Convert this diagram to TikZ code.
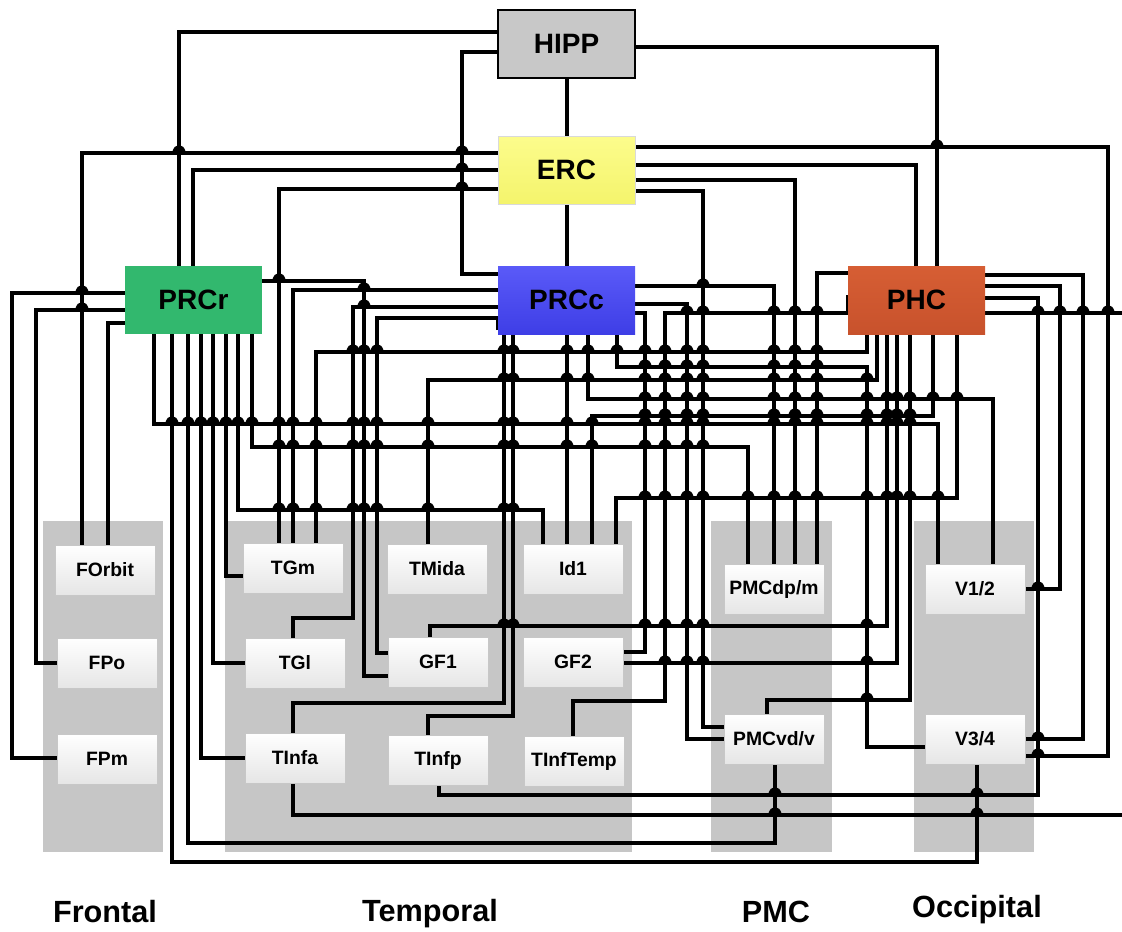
\documentclass[tikz,border=0pt]{standalone}
\usepackage{fontspec}
\setmainfont{Liberation Sans}
\pgfdeclarelayer{regions}
\pgfdeclarelayer{wires}
\pgfsetlayers{regions,wires,main}
\definecolor{regiongray}{HTML}{C6C6C6}
\definecolor{hippgray}{HTML}{C8C8C8}
\definecolor{ercY1}{HTML}{FCFC8C}
\definecolor{ercY2}{HTML}{F4F46C}
\definecolor{prccB1}{HTML}{5A5AF8}
\definecolor{prccB2}{HTML}{3E3EE6}
\definecolor{prcrG}{HTML}{32B86E}
\definecolor{phcR1}{HTML}{D65E34}
\definecolor{phcR2}{HTML}{C8522C}
\tikzset{
  big/.style={minimum width=102.75pt, minimum height=51pt, inner sep=0pt, outer sep=0pt,
              font=\fontsize{21}{21}\selectfont\bfseries},
  small/.style={minimum width=75pt, minimum height=37.5pt, inner sep=0pt, outer sep=0pt,
              draw=black!22, line width=0.6pt, top color=white, bottom color=black!10,
              font=\fontsize{14.5}{14.5}\selectfont\bfseries},
  w/.style={line width=3pt},
  region/.style={fill=regiongray},
  grp/.style={font=\fontsize{23}{23}\selectfont\bfseries}
}
\def\Hlist{32/179/498, 52/462/498, 274/462/498, 47/635/937, 153/82/498, 170/193/498,
 189/279/498, 147/635/1108, 756/1025/1108, 165/635/916, 180/635/795, 191/635/703, 727/703/724,
 281/262/364, 676/364/388, 293/12/125, 758/12/57, 310/36/125, 663/36/57, 323/108/125,
 424/154/938, 862/172/977, 843/188/775, 758/201/245, 663/213/245, 576/226/243, 510/238/543,
 447/252/748, 290/293/498, 307/353/498, 618/293/353, 318/377/498, 653/377/388, 703/293/504,
 716/428/513, 399/588/993, 367/617/867, 747/867/925, 286/635/774, 304/635/687, 739/687/724,
 313/635/645, 652/623/645, 273/817/848, 313/665/848, 701/573/665, 275/985/1083, 739/1025/1083,
 286/985/1060, 589/1025/1060, 298/985/1038, 795/439/1038, 313/985/1122, 815/293/1122,
 352/316/867, 380/428/877, 626/430/887, 663/623/897, 700/767/910, 416/592/933, 498/616/957}
\def\Vlist{179/32/266, 462/52/274, 566/78/136, 937/47/266, 566/204/266, 82/153/545, 193/170/266,
 279/189/543, 1108/147/756, 916/165/266, 795/180/564, 703/191/727, 364/281/676, 12/293/758,
 36/310/663, 108/323/545, 154/334/424, 938/424/564, 172/334/862, 977/764/862, 188/334/843,
 775/764/843, 201/334/758, 213/334/663, 226/334/576, 238/334/510, 543/510/544, 252/334/447,
 748/447/564, 293/290/543, 353/307/618, 293/618/638, 377/318/653, 504/334/703, 293/703/733,
 513/334/716, 428/716/735, 567/334/544, 588/334/399, 993/399/564, 617/334/367, 867/367/747,
 774/286/564, 687/304/739, 645/313/652, 817/273/564, 665/313/701, 573/701/736, 1083/275/739,
 1060/286/589, 1038/298/795, 439/785/795, 293/783/815, 867/334/352, 316/352/543, 877/334/380,
 428/380/544, 887/334/626, 430/626/637, 897/334/663, 910/334/700, 767/700/714, 933/334/416,
 592/416/544, 957/334/498, 616/498/544}
\begin{document}
\begin{tikzpicture}[x=0.75pt,y=-0.75pt]
\useasboundingbox (0,0) rectangle (1122,932);
% background and regions
\begin{pgfonlayer}{regions}
\fill[white] (0,0) rectangle (1122,932);
\fill[region] (43,521) rectangle (163,852);
\fill[region] (225,521) rectangle (632,852);
\fill[region] (711,521) rectangle (832,852);
\fill[region] (914,521) rectangle (1034,852);
\end{pgfonlayer}
% main nodes
\node[big, fill=hippgray, draw=black, line width=1.8pt] (HIPP) at (566.5,44) {HIPP};
\node[big, top color=ercY1, bottom color=ercY2, draw=black!15, line width=0.5pt] (ERC) at (566.5,170) {ERC};
\node[big, top color=prccB1, bottom color=prccB2] (PRCc) at (566.5,300) {PRCc};
\node[big, fill=prcrG] (PRCr) at (193.5,300) {PRCr};
\node[big, top color=phcR1, bottom color=phcR2] (PHC) at (916.5,300) {PHC};
% small nodes
\node[small] (FOrbit) at (105,570) {FOrbit};
\node[small] (FPo) at (107,663) {FPo};
\node[small] (FPm) at (107,759) {FPm};
\node[small] (TGm) at (293,568) {TGm};
\node[small] (TGl) at (295,663) {TGl};
\node[small] (TInfa) at (295,758) {TInfa};
\node[small] (TMida) at (437,569) {TMida};
\node[small] (GF1) at (438,662) {GF1};
\node[small] (TInfp) at (438,760) {TInfp};
\node[small] (Id1) at (573,569) {Id1};
\node[small] (GF2) at (573,662) {GF2};
\node[small] (TInfTemp) at (574,761) {TInfTemp};
\node[small] (PMCdpm) at (774,589) {PMCdp/m};
\node[small] (PMCvdv) at (774,739) {PMCvd/v};
\node[small] (V12) at (975,589) {V1/2};
\node[small] (V34) at (975,739) {V3/4};
\coordinate (offA) at (1122,313);
\coordinate (offB) at (1122,815);
% group labels
\node[grp] (lFrontal) at (105,912) {Frontal};
\node[grp] (lTemporal) at (430,914) {Temporal};
\node[grp] (lPMC) at (776,912) {PMC};
\node[grp] (lOcc) at (977,910) {Occipital};
% wires
\begin{pgfonlayer}{wires}
\draw[w] (HIPP.west|-0,32) -| (PRCr.north-|179,0);
\draw[w] (HIPP.west|-0,52) -| (462,274) -- (PRCc.west|-0,274);
\draw[w] (HIPP.south) -- (ERC.north);
\draw[w] (HIPP.east|-0,47) -| (PHC.north-|937,0);
\draw[w] (ERC.south) -- (PRCc.north);
\draw[w] (ERC.west|-0,153) -| (FOrbit.north-|82,0);
\draw[w] (ERC.west|-0,170) -| (PRCr.north-|193,0);
\draw[w] (ERC.west|-0,189) -| (TGm.north-|279,0);
\draw[w] (ERC.east|-0,147) -| (1108,756) -- (V34.east|-0,756);
\draw[w] (ERC.east|-0,165) -| (PHC.north-|916,0);
\draw[w] (ERC.east|-0,180) -| (PMCdpm.north-|795,0);
\draw[w] (ERC.east|-0,191) -| (703,727) -- (PMCvdv.west|-0,727);
\draw[w] (PRCr.east|-0,281) -| (364,676) -- (GF1.west|-0,676);
\draw[w] (PRCr.west|-0,293) -| (12,758) -- (FPm.west|-0,758);
\draw[w] (PRCr.west|-0,310) -| (36,663) -- (FPo.west|-0,663);
\draw[w] (PRCr.west|-0,323) -| (FOrbit.north-|108,0);
\draw[w] (PRCr.south-|154,0) |- (938,424) -- (V12.north-|938,0);
\draw[w] (PRCr.south-|172,0) |- (977,862) -- (V34.south-|977,0);
\draw[w] (PRCr.south-|188,0) |- (775,843) -- (PMCvdv.south-|775,0);
\draw[w] (PRCr.south-|201,0) |- (TInfa.west|-0,758);
\draw[w] (PRCr.south-|213,0) |- (TGl.west|-0,663);
\draw[w] (PRCr.south-|226,0) |- (TGm.west|-0,576);
\draw[w] (PRCr.south-|238,0) |- (543,510) -- (Id1.north-|543,0);
\draw[w] (PRCr.south-|252,0) |- (748,447) -- (PMCdpm.north-|748,0);
\draw[w] (PRCc.west|-0,290) -| (TGm.north-|293,0);
\draw[w] (PRCc.west|-0,307) -| (353,618) -| (TGl.north-|293,0);
\draw[w] (PRCc.west|-0,330) -- (498,318) -| (377,653) -- (GF1.west|-0,653);
\draw[w] (PRCc.south-|504,0) |- (293,703) -- (TInfa.north-|293,0);
\draw[w] (PRCc.south-|513,0) |- (428,716) -- (TInfp.north-|428,0);
\draw[w] (PRCc.south-|567,0) -- (Id1.north-|567,0);
\draw[w] (PRCc.south-|588,0) |- (993,399) -- (V12.north-|993,0);
\draw[w] (PRCc.south-|617,0) |- (867,367) |- (V34.west|-0,747);
\draw[w] (PRCc.east|-0,286) -| (PMCdpm.north-|774,0);
\draw[w] (PRCc.east|-0,304) -| (687,739) -- (PMCvdv.west|-0,739);
\draw[w] (PRCc.east|-0,313) -| (645,652) -- (GF2.east|-0,652);
\draw[w] (PHC.west|-0,273) -| (PMCdpm.north-|817,0);
\draw[w] (PHC.west|-0,295) -- (848,313) -| (665,701) -| (TInfTemp.north-|573,0);
\draw[w] (PHC.east|-0,275) -| (1083,739) -- (V34.east|-0,739);
\draw[w] (PHC.east|-0,286) -| (1060,589) -- (V12.east|-0,589);
\draw[w] (PHC.east|-0,298) -| (1038,795) -| (TInfp.south-|439,0);
\draw[w] (PHC.east|-0,313) -- (offA);
\draw[w] (TInfa.south-|293,0) |- (offB);
\draw[w] (PHC.south-|867,0) |- (316,352) -- (TGm.north-|316,0);
\draw[w] (PHC.south-|877,0) |- (428,380) -- (TMida.north-|428,0);
\draw[w] (PHC.south-|887,0) |- (430,626) -- (GF1.north-|430,0);
\draw[w] (PHC.south-|897,0) |- (GF2.east|-0,663);
\draw[w] (PHC.south-|910,0) |- (767,700) -- (PMCvdv.north-|767,0);
\draw[w] (PHC.south-|933,0) |- (592,416) -- (Id1.north-|592,0);
\draw[w] (PHC.south-|957,0) |- (616,498) -- (Id1.north-|616,0);
% line hops at crossings
\foreach \hy/\ha/\hb in \Hlist {
  \foreach \vx/\va/\vb in \Vlist {
    \pgfmathtruncatemacro\ok{and(and(\vx>\ha+2,\vx<\hb-2),and(\hy>\va+2,\hy<\vb-2))}
    \ifnum\ok=1
      \draw[w, line cap=round] (\vx-5,\hy) .. controls (\vx-3,\hy-8) and (\vx+3,\hy-8) .. (\vx+5,\hy);
    \fi
  }
}
\end{pgfonlayer}
\end{tikzpicture}
\end{document}
